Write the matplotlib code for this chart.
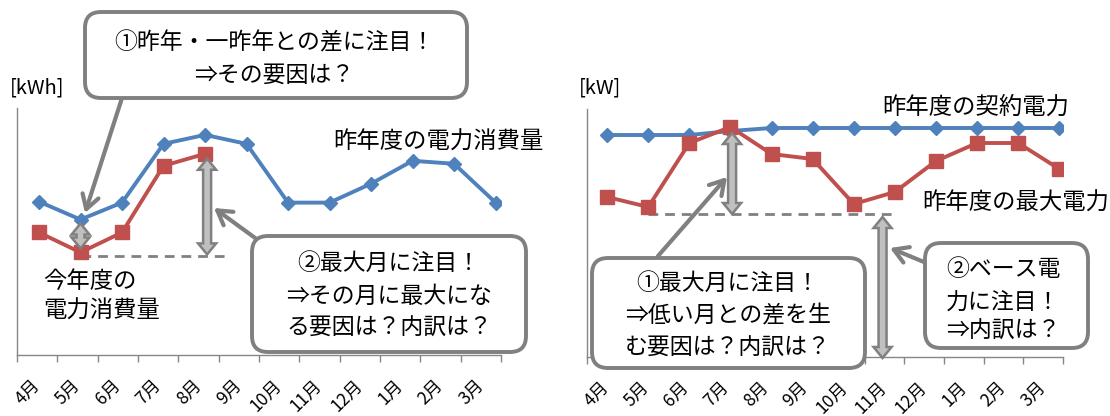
#!/usr/bin/env python3
"""Electricity usage / peak power comparison with callouts (two panels)."""

import matplotlib

matplotlib.use("Agg")
import matplotlib.pyplot as plt
import numpy as np
from matplotlib.patches import FancyBboxPatch, Polygon
from matplotlib.transforms import IdentityTransform

plt.rcParams["font.family"] = ["Noto Sans CJK JP", "DejaVu Sans"]

W, H = 1110, 416

MONTHS = ["4月", "5月", "6月", "7月", "8月", "9月", "10月", "11月", "12月", "1月", "2月", "3月"]

# left panel (kWh, arbitrary units)
USAGE_LAST_YEAR = [154, 136, 153, 212, 221, 212, 153, 153, 172, 195, 192, 153]
USAGE_THIS_YEAR = [123, 103, 123, 190, 202]

# right panel (kW)
CONTRACT_LAST_YEAR = [222, 222, 222, 226, 229, 229, 229, 229, 229, 229, 229, 229]
PEAK_LAST_YEAR = [160, 150, 214, 230, 203, 198, 153, 165, 196, 214, 214, 188]

BLUE = "#4F81BD"
RED = "#C0504D"
GRAY = "#808080"
LIGHT = "#C0C0C0"


def style_axis(ax, xlim):
    ax.set_xlim(*xlim)
    ax.set_ylim(0, 248)
    for side in ("top", "right"):
        ax.spines[side].set_visible(False)
    for side in ("left", "bottom"):
        ax.spines[side].set_color("#868686")
        ax.spines[side].set_linewidth(1.0)
    ax.set_yticks([])
    edges = np.linspace(xlim[0], xlim[1], 13)
    ax.set_xticks(edges, minor=True)
    ax.set_xticks((edges[:-1] + edges[1:]) / 2)
    ax.set_xticklabels(MONTHS, rotation=45, ha="right", va="center",
                       rotation_mode="anchor", fontsize=12.5)
    ax.tick_params(axis="x", which="major", length=0, pad=20)
    ax.tick_params(axis="x", which="minor", length=5, color="#868686", width=1)


def double_arrow(ax, x, y0, y1, sw=4, hw=9, hl=11):
    (xc, a), (_, b) = ax.transData.transform([(x, y0), (x, y1)])
    top, bot = max(a, b), min(a, b)
    pts = [(xc, top), (xc + hw, top - hl), (xc + sw, top - hl), (xc + sw, bot + hl),
           (xc + hw, bot + hl), (xc, bot), (xc - hw, bot + hl), (xc - sw, bot + hl),
           (xc - sw, top - hl), (xc - hw, top - hl)]
    ax.add_patch(Polygon(pts, closed=True, facecolor=LIGHT, edgecolor=GRAY, lw=1.8,
                         transform=IdentityTransform(), clip_on=False, zorder=5))


def pointer(ax, start, tip):
    ax.annotate("", xy=(tip[0], H - tip[1]), xycoords="figure pixels",
                xytext=(start[0], H - start[1]), textcoords="figure pixels",
                annotation_clip=False,
                arrowprops=dict(arrowstyle="->,head_length=1.0,head_width=0.6",
                                lw=3, color=GRAY, shrinkA=0, shrinkB=0), zorder=6)


def callout(fig, x0, y0, x1, y1, lines, cx, ys, size=16.5):
    box = FancyBboxPatch((x0, H - y1), x1 - x0, y1 - y0,
                         boxstyle="round,pad=0,rounding_size=16",
                         facecolor="white", edgecolor=GRAY, lw=2.8,
                         transform=IdentityTransform(), zorder=7)
    fig.add_artist(box)
    for s, y in zip(lines, ys):
        fig.text(cx / W, 1 - y / H, s, ha="center", va="center", fontsize=size, zorder=8)


def label(fig, x, y, s, size=16.8, ha="left"):
    fig.text(x / W, 1 - y / H, s, ha=ha, va="center", fontsize=size, zorder=8)


fig = plt.figure(figsize=(W / 100, H / 100), dpi=100)
ax1 = fig.add_axes([17 / W, (H - 355) / H, (501 - 17) / W, (355 - 108) / H])
ax2 = fig.add_axes([587 / W, (H - 357) / H, (1063 - 587) / W, (357 - 109) / H])

# ---- left panel ----
x_all = np.arange(len(MONTHS))
style_axis(ax1, (-0.53, 11.13))
ax1.plot(x_all, USAGE_LAST_YEAR, color=BLUE, lw=2.8, marker="D", ms=7, zorder=3)
ax1.plot(x_all[:len(USAGE_THIS_YEAR)], USAGE_THIS_YEAR, color=RED, lw=2.8,
         marker="s", ms=10.5, zorder=3)
base = min(USAGE_THIS_YEAR) - 4
ax1.plot([1, 4.55], [base, base], color=GRAY, lw=2, ls=(0, (3.5, 2.5)), zorder=2)
double_arrow(ax1, 1, USAGE_LAST_YEAR[1] - 4, USAGE_THIS_YEAR[1] + 4)
double_arrow(ax1, 4.05, USAGE_THIS_YEAR[4] - 5, base + 2)

# ---- right panel ----
style_axis(ax2, (-0.49, 11.09))
ax2.plot(x_all, CONTRACT_LAST_YEAR, color=BLUE, lw=2.8, marker="D", ms=7, zorder=3)
ax2.plot(x_all, PEAK_LAST_YEAR, color=RED, lw=2.8, marker="s", ms=10.5, zorder=4)
low = min(PEAK_LAST_YEAR) - 7
ax2.plot([1, 6.93], [low, low], color=GRAY, lw=2, ls=(0, (3.5, 2.5)), zorder=2)
double_arrow(ax2, 3.04, max(PEAK_LAST_YEAR) - 6, low)
double_arrow(ax2, 6.7, low - 3, -1)

# ---- texts ----
label(fig, 37, 88, "[kWh]", size=14.5, ha="center")
label(fig, 600, 88, "[kW]", size=14.5, ha="center")
label(fig, 43, 281, "今年度の")
label(fig, 43, 311, "電力消費量")
label(fig, 333, 142, "昨年度の電力消費量")
label(fig, 882, 107, "昨年度の契約電力")
label(fig, 922, 203, "昨年度の最大電力")

# ---- callouts ----
pointer(ax1, (122, 98), (85, 213))
callout(fig, 85, 12, 467, 98, ["①昨年・一昨年との差に注目！", "⇒その要因は？"], 274, [43, 75])
pointer(ax1, (262, 243), (214, 208))
callout(fig, 252, 236, 526, 352,
        ["②最大月に注目！", "⇒その月に最大にな", "る要因は？内訳は？"], 389, [263, 296, 328])
pointer(ax2, (658, 256), (727, 177))
callout(fig, 592, 258, 865, 368,
        ["①最大月に注目！", "⇒低い月との差を生", "む要因は？内訳は？"], 728, [283, 316, 348])
pointer(ax2, (924, 262), (890, 248))
callout(fig, 925, 243, 1088, 348, ["②ベース電", "力に注目！", "⇒内訳は？"], 1003, [269, 302, 331])

fig.savefig("out.png", dpi=100)
